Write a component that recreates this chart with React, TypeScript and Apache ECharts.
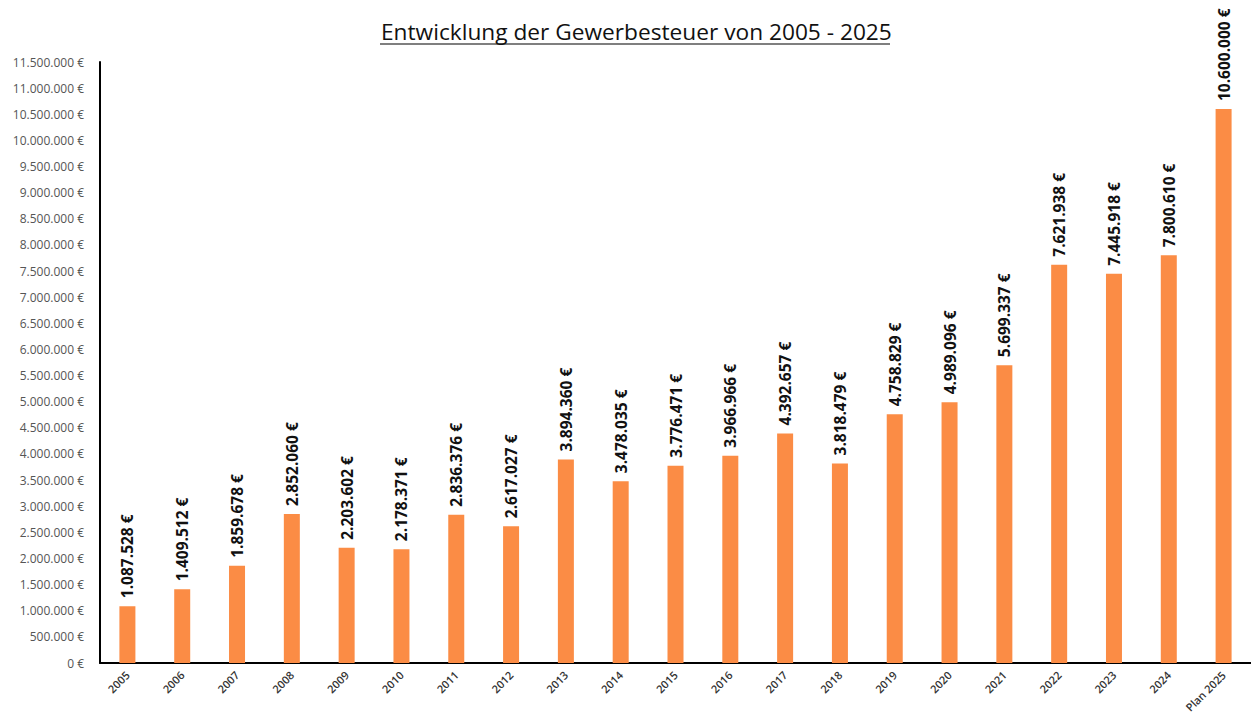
import React, { useEffect, useRef } from "react";
import * as echarts from "echarts";

const categories = ["2005","2006","2007","2008","2009","2010","2011","2012","2013","2014","2015","2016","2017","2018","2019","2020","2021","2022","2023","2024","Plan 2025"];
const values = [1087528,1409512,1859678,2852060,2203602,2178371,2836376,2617027,3894360,3478035,3776471,3966966,4392657,3818479,4758829,4989096,5699337,7621938,7445918,7800610,10600000];
const titleText = "Entwicklung der Gewerbesteuer von 2005 - 2025";

const fmt = (v: number) => v.toString().replace(/\B(?=(\d{3})+(?!\d))/g, ".") + " €";

export default function App() {
  const ref = useRef<HTMLDivElement>(null);
  useEffect(() => {
    const chart = echarts.init(ref.current!, null, { renderer: "svg" });
    chart.setOption({
      animation: false,
      backgroundColor: "#ffffff",
      title: {
        text: titleText,
        left: 376,
        top: 15,
        textStyle: { fontFamily: "Open Sans", fontSize: 22.7, fontWeight: "normal", color: "#111" },
      },
      graphic: [
        { type: "line", shape: { x1: 380, y1: 44, x2: 890, y2: 44 }, style: { stroke: "#555", lineWidth: 1.5 } },
      ],
      grid: { left: 100, right: 0, top: 62, bottom: 56, containLabel: false },
      xAxis: {
        type: "category",
        data: categories,
        axisLine: { lineStyle: { color: "#000", width: 2 } },
        axisTick: { show: false },
        axisLabel: { rotate: 45, fontFamily: "Open Sans", fontSize: 11, fontWeight: 600, color: "#333", margin: 10, interval: 0 },
      },
      yAxis: {
        type: "value",
        min: 0,
        max: 11500000,
        interval: 500000,
        axisLine: { show: true, lineStyle: { color: "#000", width: 2 } },
        axisTick: { show: false },
        splitLine: { show: false },
        axisLabel: { formatter: (v: number) => fmt(v), fontFamily: "Open Sans", fontSize: 12, color: "#555", margin: 16 },
      },
      series: [
        {
          type: "bar",
          data: values,
          barWidth: 16,
          itemStyle: { color: "#fb8c45" },
          label: {
            show: true,
            position: "top",
            rotate: 90,
            align: "left",
            verticalAlign: "middle",
            distance: 8,
            formatter: (p: any) => fmt(p.value),
            fontFamily: "Open Sans",
            fontWeight: "bold",
            fontSize: 15.5,
            color: "#111",
          },
        },
      ],
    });
    return () => chart.dispose();
  }, []);
  return <div ref={ref} style={{ position: "absolute", left: 0, top: 0, width: 1251, height: 719 }} />;
}
